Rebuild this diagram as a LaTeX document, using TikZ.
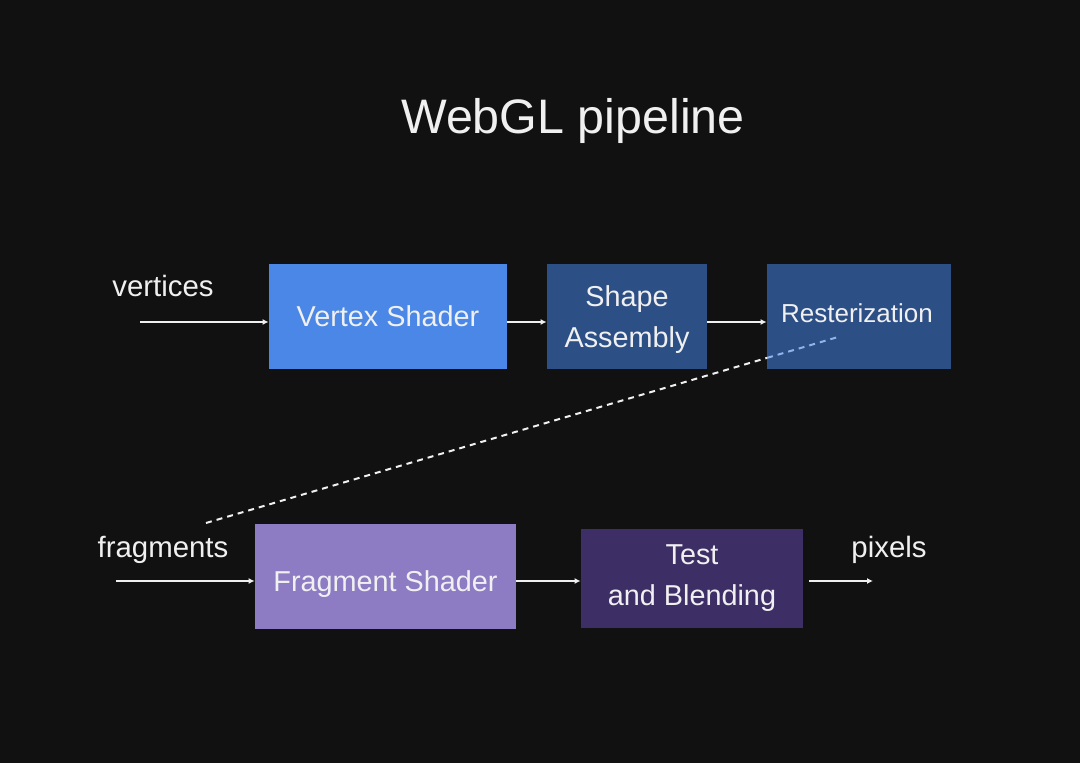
\documentclass[tikz,border=0pt]{standalone}
\usepackage{fontspec}
\setmainfont{Liberation Sans}
\usepackage{xcolor}
\usepackage{tikz}
\usetikzlibrary{arrows.meta,calc}

\definecolor{bgdark}{RGB}{17,17,17}
\definecolor{vsblue}{RGB}{74,135,230}
\definecolor{navyblue}{RGB}{44,79,134}
\definecolor{lavender}{RGB}{141,123,196}
\definecolor{plum}{RGB}{62,46,102}
\definecolor{paleblue}{RGB}{145,178,235}
\definecolor{offwhite}{RGB}{240,240,240}

\begin{document}
\begin{tikzpicture}[
  x=0.5pt,y=-0.5pt,
  box/.style={rectangle,inner sep=0pt,align=center,text=offwhite,font=\fontsize{14.4}{20.5}\selectfont,minimum height=52.5pt},
  lbl/.style={text=offwhite,font=\fontsize{14.7}{17}\selectfont},
  arr/.style={-{Latex[length=3pt,width=3pt]},draw=offwhite,line width=0.7pt},
  dashlink/.style={dash pattern=on 3pt off 2.5pt,line width=1pt}
]
\fill[bgdark] (0,0) rectangle (1080,763);
\node[text=offwhite,font=\fontsize{24.2}{29}\selectfont] (title) at (573,121) {WebGL pipeline};

% top row
\node[box,fill=vsblue,minimum width=119pt] (vertex) at (388,316.5) {Vertex Shader};
\node[box,fill=navyblue,minimum width=80pt,text depth=0pt] (shape) at (627,316.5) {Shape\\Assembly};
\node[box,fill=navyblue,minimum width=92pt] (raster) at (859,316.5) {};
\node[text=offwhite,font=\fontsize{13}{16}\selectfont] (rastertext) at (857,313) {Resterization};
\node[lbl] (vertices) at (163,286) {vertices};
\coordinate (vin) at (140,322);

% bottom row
\node[box,fill=lavender,minimum width=130.5pt,text height=18pt] (frag) at (385.5,576.5) {Fragment Shader};
\node[box,fill=plum,minimum width=111pt,minimum height=49.5pt] (test) at (692,578.5) {Test\\and Blending};
\node[lbl] (fragments) at (163,550) {fragments};
\node[lbl] (pixels) at (889,550) {pixels};
\coordinate (fin) at (116,581);
\coordinate (pout) at (873,581);

% dashed link
\coordinate (dstart) at (206,523);
\coordinate (dend) at (838,337);
\coordinate (dmid) at ($(dstart)!0.8877!(dend)$);
\draw[dashlink,offwhite] (dstart) -- (dmid);
\draw[dashlink,paleblue] (dmid) -- (dend);

\draw[arr] (vin) -- (vin -| vertex.west);
\draw[arr] (vertex.east |- vin) -- (shape.west |- vin);
\draw[arr] (shape.east |- vin) -- (raster.west |- vin);
\draw[arr] (fin) -- (fin -| frag.west);
\draw[arr] (frag.east |- fin) -- (test.west |- fin);
\draw[arr] ([xshift=3pt]test.east |- fin) -- (pout);
\end{tikzpicture}
\end{document}
